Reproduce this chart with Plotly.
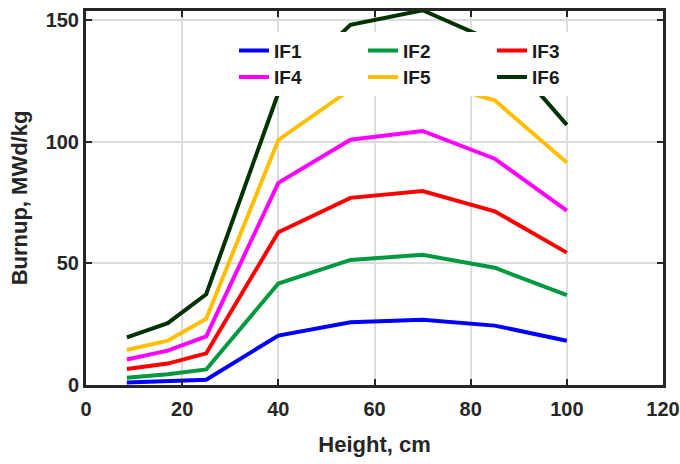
import plotly.graph_objects as go

# ---- data ----
height_cm = [8.5, 17, 25, 40, 55, 70, 85, 100]
series_names = ["IF1", "IF2", "IF3", "IF4", "IF5", "IF6"]
IF1 = [1.0, 1.7, 2.2, 20.3, 25.8, 26.8, 24.4, 18.2]
IF2 = [3.0, 4.4, 6.4, 41.7, 51.4, 53.5, 48.2, 36.9]
IF3 = [6.6, 8.8, 13.0, 62.8, 76.9, 79.7, 71.4, 54.4]
IF4 = [10.5, 14.1, 20.0, 83.1, 100.8, 104.4, 93.0, 71.7]
IF5 = [14.4, 18.2, 27.2, 100.7, 121.5, 125.5, 117.0, 91.4]
IF6 = [19.6, 25.4, 37.3, 120.0, 148.0, 154.0, 141.0, 106.9]
x_ticks = [0, 20, 40, 60, 80, 100, 120]
y_ticks = [0, 50, 100, 150]

series_values = [IF1, IF2, IF3, IF4, IF5, IF6]
colors = ["#0000FF", "#00993F", "#FF0000", "#FF00FF", "#FFBF00", "#003300"]
legend_ids = ["legend", "legend", "legend", "legend2", "legend2", "legend2"]

FONT = "Liberation Sans, Arial, sans-serif"
AX = "#262626"

fig = go.Figure()
for name, vals, col, lg in zip(series_names, series_values, colors, legend_ids):
    fig.add_trace(go.Scatter(
        x=height_cm, y=vals, mode="lines", name=name,
        line=dict(color=col, width=4), legend=lg,
    ))

axis_common = dict(
    showgrid=True, gridcolor="#dcdcdc", gridwidth=2,
    showline=True, linecolor=AX, linewidth=3, mirror="ticks",
    ticks="inside", ticklen=6, tickwidth=2, tickcolor=AX,
    zeroline=False, automargin=False, ticklabeloverflow="allow",
    tickfont=dict(family=FONT, size=20, color=AX, weight="bold"),
)

legend_common = dict(
    orientation="h", xanchor="left", yanchor="middle",
    bgcolor="white", borderwidth=0, entrywidth=84, entrywidthmode="pixels",
    font=dict(family=FONT, size=19, color="#1a1a1a", weight="bold"),
)

fig.update_layout(
    width=680, height=464,
    margin=dict(l=86, r=17, t=11, b=79),
    plot_bgcolor="white", paper_bgcolor="white",
    xaxis=dict(range=[0, 120], tickvals=x_ticks, ticklabelstandoff=4,
               title=dict(text="Height, cm", font=dict(family=FONT, size=22, color=AX, weight="bold"), standoff=18),
               **axis_common),
    yaxis=dict(range=[0, 153.7], tickvals=y_ticks,
               title=dict(text="Burnup, MWd/kg", font=dict(family=FONT, size=22, color=AX, weight="bold"), standoff=12),
               **axis_common),
    legend=dict(x=0.2565, y=0.894, **legend_common),
    legend2=dict(x=0.2565, y=0.823, **legend_common),
    showlegend=True,
)

fig.write_html("out.html", config={"displayModeBar": False},
               post_script="document.body.style.margin='0';")
